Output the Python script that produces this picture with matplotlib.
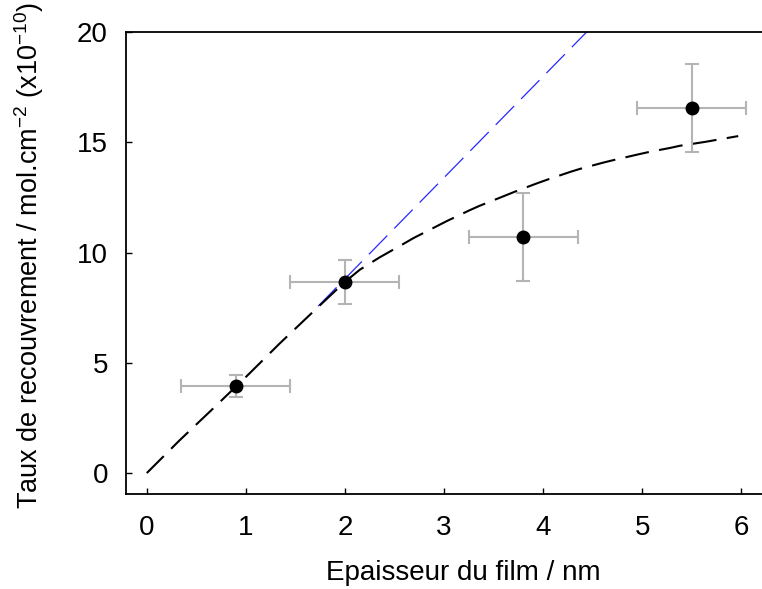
import matplotlib
matplotlib.use("Agg")
import matplotlib.pyplot as plt

plt.rcParams['font.family'] = ['Liberation Sans', 'DejaVu Sans']
plt.rcParams['mathtext.fontset'] = 'custom'
plt.rcParams['mathtext.rm'] = 'Liberation Sans'
plt.rcParams['mathtext.it'] = 'Liberation Sans'

# data points
x_pts = [0.9, 2.0, 3.8, 5.5]
y_pts = [3.95, 8.65, 10.7, 16.55]
x_err = [0.55, 0.55, 0.55, 0.55]
y_err = [0.5, 1.0, 2.0, 2.0]

# fitted curve
fit_x = [0.0, 0.33, 0.67, 1.01, 1.34, 1.68, 1.99, 2.15, 2.35, 2.59, 2.69, 2.93,
         3.03, 3.26, 3.36, 3.60, 3.71, 3.94, 4.04, 4.27, 4.37, 4.61, 4.71, 4.96,
         5.07, 5.29, 5.38, 5.64, 5.74, 5.97]
fit_y = [0.0, 1.48, 2.93, 4.40, 5.87, 7.32, 8.63, 9.22, 9.78, 10.39, 10.65, 11.20,
         11.43, 11.92, 12.12, 12.55, 12.75, 13.14, 13.30, 13.65, 13.79, 14.08, 14.19, 14.45,
         14.56, 14.75, 14.84, 15.02, 15.10, 15.28]

# linear (initial slope) line
lin_x = [1.73, 4.44]
lin_y = [7.57, 20.0]

x_ticks = [0, 1, 2, 3, 4, 5, 6]
y_ticks = [0, 5, 10, 15, 20]

fig = plt.figure(figsize=(7.62, 5.89), dpi=100)
ax = fig.add_axes([126/762, 1-494/589, 1-126/762, (494-32)/589])

ax.plot(lin_x, lin_y, color='#2828ff', lw=0.9, linestyle=(0, (21, 8)))
ax.plot(fit_x, fit_y, color='black', lw=1.5, linestyle=(0, (11.5, 5)))
ax.errorbar(x_pts, y_pts, xerr=x_err, yerr=y_err, fmt='none',
            ecolor='#b4b4b4', elinewidth=1.5, capsize=5, capthick=1.5, zorder=3)
ax.plot(x_pts, y_pts, 'o', color='black', markersize=9, zorder=4)

ax.set_xlim(-0.21, 6.21)
ax.set_ylim(-0.95, 20)
ax.set_xticks(x_ticks)
ax.set_yticks(y_ticks)
ax.tick_params(direction='in', length=4.5, width=1, labelsize=20)
ax.tick_params(axis='y', pad=13)
ax.tick_params(axis='x', pad=15)
ax.spines['right'].set_visible(False)
for s in ['left', 'bottom', 'top']:
    ax.spines[s].set_linewidth(1.3)

ax.set_xlabel('Epaisseur du film / nm', fontsize=20)
ax.xaxis.set_label_coords(0.53, -0.142)
ax.set_ylabel('Taux de recouvrement / mol.cm$^{-2}$ (x10$^{-10}$)', fontsize=19.5)
ax.yaxis.set_label_coords(-0.125, 0.517)

fig.savefig('out.png', dpi=100)
